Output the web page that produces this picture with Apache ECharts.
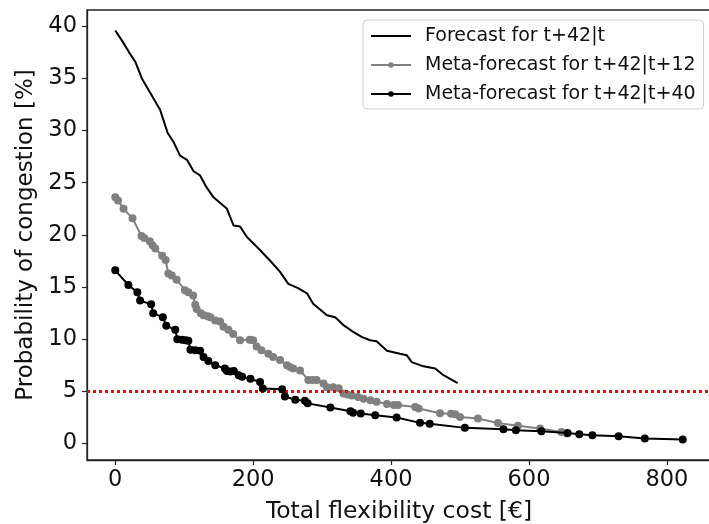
<!DOCTYPE html>
<html>
<head>
<meta charset="utf-8">
<script src="https://cdn.jsdelivr.net/npm/echarts@6/dist/echarts.min.js"></script>
<style>html,body{margin:0;padding:0;background:#fff}#c{width:709px;height:524px}</style>
</head>
<body>
<div id="c"></div>
<script>
const xTicks = [0, 200, 400, 600, 800];
const yTicks = [0, 5, 10, 15, 20, 25, 30, 35, 40];
const threshold = 5;
const seriesNames = ['Forecast for t+42|t', 'Meta-forecast for t+42|t+12', 'Meta-forecast for t+42|t+40'];

const forecast = [[0,39.6],[10,38.6],[20,37.5],[29,36.6],[38.6,35.0],[50,33.7],[65,32.0],[75.8,29.8],[84.5,28.9],[94,27.6],[104,27.2],[113.5,26.1],[123,25.7],[132,24.6],[142.5,23.6],[162,22.5],[171.5,20.9],[181,20.8],[191,19.8],[207.7,18.7],[225,17.5],[239,16.45],[251,15.3],[265,14.9],[278,14.4],[287,13.4],[307,12.3],[319,12.1],[332,11.3],[345,10.7],[358,10.2],[369.6,9.9],[379,9.8],[394,8.9],[413,8.6],[422.7,8.47],[430,7.8],[447,7.4],[464,7.2],[476,6.55],[496.6,5.8]];

const meta12 = [[0,23.6],[4,23.3],[12,22.5],[25,21.6],[38,19.9],[42,19.7],[50,19.4],[54,19.0],[58,18.7],[68,18.0],[73,17.6],[77,16.3],[82,16.1],[89,15.7],[101,14.7],[106,14.5],[113,14.2],[116,13.3],[118,12.9],[124,12.5],[128,12.3],[134,12.2],[138,12.1],[145,11.8],[152,11.7],[157,11.2],[164,10.9],[171,10.5],[181,9.9],[195,9.95],[200,9.9],[205,9.3],[212,8.95],[222,8.6],[229,8.3],[239,8.0],[249,7.5],[254,7.3],[258,7.2],[268,7.0],[280,6.1],[286,6.1],[292,6.1],[302,5.75],[307,5.4],[316,5.4],[324,5.3],[331,4.8],[337,4.7],[343,4.6],[352,4.45],[360,4.3],[370,4.15],[379,4.0],[394,3.8],[404,3.7],[410,3.7],[435,3.5],[440,3.35],[471,2.9],[487,2.85],[493,2.8],[500,2.55],[526,2.4],[555,1.97],[584,1.7],[616,1.44],[647,1.1],[655,0.96]];

const meta40 = [[0,16.6],[19,15.2],[32,14.5],[36,13.7],[52,13.35],[55,12.5],[69,12.1],[74,11.3],[87,10.9],[90,10.0],[97,9.95],[102,9.9],[106,9.85],[109,9.0],[116,8.95],[123,8.9],[128,8.3],[135,7.9],[145,7.5],[159,7.2],[162,6.95],[167,6.9],[172,6.95],[179,6.55],[184,6.4],[196,6.2],[210,5.9],[214,5.27],[242,5.2],[246,4.5],[261,4.2],[275,4.1],[279,3.85],[312,3.45],[341,3.1],[345,2.95],[356,2.87],[377,2.7],[408,2.5],[442,1.98],[456,1.9],[507,1.5],[563,1.37],[581,1.27],[618,1.18],[656,1.0],[673,0.9],[692,0.8],[730,0.7],[768,0.48],[823,0.38]];

const FONT = 'DejaVu Sans';
const chart = echarts.init(document.getElementById('c'), null, {renderer: 'canvas'});
chart.setOption({
  animation: false,
  backgroundColor: '#fff',
  textStyle: {fontFamily: FONT},
  grid: {left: 87, right: -2, top: 10, bottom: 64, containLabel: false, outerBoundsMode: 'none',
         show: true, borderColor: '#222', borderWidth: 1.3, backgroundColor: 'transparent'},
  legend: {
    orient: 'vertical', left: 363, top: 20,
    padding: [6, 8, 5, 7],
    itemWidth: 40, itemHeight: 7, itemGap: 9,
    backgroundColor: '#fff', borderColor: '#d0d0d0', borderWidth: 1, borderRadius: 4,
    textStyle: {fontFamily: FONT, fontSize: 19, color: '#111', lineHeight: 20, padding: [0, 0, 0, 9]},
    data: [
      {name: seriesNames[0], itemStyle: {opacity: 0}},
      {name: seriesNames[1]},
      {name: seriesNames[2]}
    ]
  },
  xAxis: {
    type: 'value', min: -41, max: 864,
    name: 'Total flexibility cost [€]', nameLocation: 'middle', nameGap: 40,
    nameTextStyle: {fontFamily: FONT, fontSize: 23.5, color: '#111'},
    axisLine: {show: true, onZero: false, lineStyle: {color: '#222', width: 1.3}},
    axisTick: {show: true, length: 5, inside: false, customValues: xTicks, lineStyle: {color: '#222', width: 1.2}},
    axisLabel: {customValues: xTicks, margin: 9, fontFamily: FONT, fontSize: 22.5, color: '#111'},
    splitLine: {show: false}
  },
  yAxis: {
    type: 'value', min: -1.58, max: 41.56,
    name: 'Probability of congestion [%]', nameLocation: 'middle', nameGap: 48, nameRotate: 90,
    nameTextStyle: {fontFamily: FONT, fontSize: 23, color: '#111'},
    axisLine: {show: true, onZero: false, lineStyle: {color: '#222', width: 1.3}},
    axisTick: {show: true, length: 5, inside: false, customValues: yTicks, lineStyle: {color: '#222', width: 1.2}},
    axisLabel: {customValues: yTicks, margin: 10, fontFamily: FONT, fontSize: 22.5, color: '#111'},
    splitLine: {show: false}
  },
  series: [
    {
      name: seriesNames[0], type: 'line', data: forecast, showSymbol: false, symbol: 'none',
      lineStyle: {color: '#000', width: 2}, itemStyle: {color: '#000'}, z: 3,
      markLine: {
        silent: true, symbol: 'none', label: {show: false},
        lineStyle: {color: '#ff0000', width: 3, type: [3, 3], cap: 'butt'},
        data: [{yAxis: threshold}]
      }
    },
    {
      name: seriesNames[1], type: 'line', data: meta12, symbol: 'circle', symbolSize: 8,
      lineStyle: {color: '#808080', width: 2}, itemStyle: {color: '#808080'}, z: 4
    },
    {
      name: seriesNames[2], type: 'line', data: meta40, symbol: 'circle', symbolSize: 8,
      lineStyle: {color: '#000', width: 2}, itemStyle: {color: '#000'}, z: 5
    }
  ]
});
</script>
</body>
</html>
